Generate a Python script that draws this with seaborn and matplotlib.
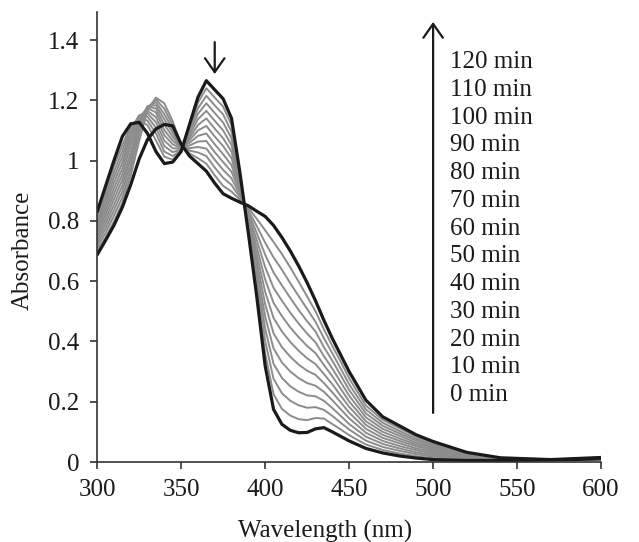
#!/usr/bin/env python3
""" UV-vis spectra recorded every 10 min (0-120 min) """

import pandas as pd
import matplotlib
matplotlib.use('Agg')
import matplotlib.pyplot as plt
from matplotlib.ticker import FuncFormatter
import seaborn as sns

wavelength = [300, 305, 310, 315, 320, 325, 330, 335, 340, 345,
              350, 355, 360, 365, 370, 375, 380, 385, 390, 395,
              400, 405, 410, 415, 420, 425, 430, 435, 440, 445,
              450, 460, 470, 480, 490, 500, 520, 540, 570, 600]

abs_0 = [0.830, 0.915, 1.000, 1.080, 1.122, 1.127, 1.090, 1.030, 0.990, 0.995,
         1.030, 1.120, 1.210, 1.265, 1.235, 1.205, 1.140, 0.960, 0.760, 0.550,
         0.320, 0.175, 0.125, 0.105, 0.097, 0.098, 0.110, 0.114, 0.100, 0.085,
         0.070, 0.045, 0.030, 0.020, 0.013, 0.008, 0.005, 0.005, 0.007, 0.010]
abs_10 = [0.809, 0.895, 0.982, 1.051, 1.116, 1.137, 1.117, 1.067, 1.013, 1.003,
          1.032, 1.111, 1.192, 1.240, 1.209, 1.179, 1.118, 0.952, 0.768, 0.573,
          0.361, 0.225, 0.176, 0.154, 0.142, 0.139, 0.146, 0.144, 0.126, 0.108,
          0.089, 0.058, 0.040, 0.028, 0.019, 0.013, 0.007, 0.006, 0.007, 0.010]
abs_20 = [0.798, 0.880, 0.963, 1.032, 1.110, 1.145, 1.132, 1.090, 1.030, 1.015,
          1.034, 1.103, 1.173, 1.215, 1.183, 1.153, 1.096, 0.944, 0.775, 0.597,
          0.402, 0.276, 0.228, 0.203, 0.188, 0.180, 0.182, 0.173, 0.153, 0.130,
          0.108, 0.071, 0.050, 0.037, 0.026, 0.018, 0.010, 0.007, 0.007, 0.011]
abs_30 = [0.788, 0.865, 0.945, 1.013, 1.101, 1.149, 1.145, 1.109, 1.048, 1.028,
          1.036, 1.094, 1.155, 1.190, 1.158, 1.126, 1.074, 0.936, 0.783, 0.620,
          0.443, 0.326, 0.279, 0.251, 0.233, 0.221, 0.218, 0.203, 0.179, 0.153,
          0.126, 0.084, 0.060, 0.045, 0.032, 0.023, 0.012, 0.007, 0.007, 0.011]
abs_40 = [0.777, 0.850, 0.927, 0.993, 1.088, 1.150, 1.156, 1.127, 1.066, 1.041,
          1.038, 1.085, 1.137, 1.165, 1.132, 1.100, 1.052, 0.927, 0.790, 0.643,
          0.483, 0.377, 0.330, 0.300, 0.278, 0.262, 0.253, 0.233, 0.205, 0.175,
          0.145, 0.097, 0.070, 0.053, 0.039, 0.028, 0.014, 0.008, 0.007, 0.012]
abs_50 = [0.766, 0.835, 0.908, 0.974, 1.071, 1.148, 1.165, 1.144, 1.084, 1.054,
          1.040, 1.076, 1.118, 1.140, 1.106, 1.074, 1.030, 0.919, 0.798, 0.667,
          0.524, 0.427, 0.381, 0.349, 0.323, 0.303, 0.289, 0.262, 0.231, 0.198,
          0.164, 0.110, 0.080, 0.062, 0.045, 0.033, 0.016, 0.009, 0.007, 0.012]
abs_60 = [0.755, 0.820, 0.890, 0.955, 1.052, 1.143, 1.174, 1.160, 1.101, 1.066,
          1.043, 1.068, 1.100, 1.115, 1.080, 1.048, 1.008, 0.911, 0.805, 0.690,
          0.565, 0.478, 0.433, 0.398, 0.369, 0.344, 0.325, 0.292, 0.258, 0.220,
          0.183, 0.123, 0.090, 0.070, 0.052, 0.038, 0.019, 0.010, 0.007, 0.013]
abs_70 = [0.744, 0.805, 0.872, 0.936, 1.028, 1.133, 1.179, 1.173, 1.119, 1.079,
          1.045, 1.059, 1.082, 1.090, 1.054, 1.021, 0.985, 0.903, 0.813, 0.713,
          0.606, 0.528, 0.484, 0.446, 0.414, 0.385, 0.361, 0.322, 0.284, 0.243,
          0.201, 0.135, 0.100, 0.078, 0.058, 0.043, 0.021, 0.010, 0.007, 0.013]
abs_80 = [0.733, 0.790, 0.853, 0.917, 1.010, 1.120, 1.180, 1.184, 1.137, 1.092,
          1.047, 1.050, 1.063, 1.065, 1.028, 0.995, 0.963, 0.895, 0.820, 0.737,
          0.647, 0.578, 0.535, 0.495, 0.459, 0.426, 0.397, 0.351, 0.310, 0.265,
          0.220, 0.148, 0.110, 0.087, 0.064, 0.048, 0.023, 0.011, 0.007, 0.013]
abs_90 = [0.723, 0.775, 0.835, 0.898, 0.990, 1.106, 1.179, 1.194, 1.154, 1.104,
          1.049, 1.041, 1.045, 1.040, 1.003, 0.969, 0.941, 0.887, 0.828, 0.760,
          0.688, 0.629, 0.586, 0.544, 0.504, 0.467, 0.433, 0.381, 0.336, 0.288,
          0.239, 0.161, 0.120, 0.095, 0.071, 0.053, 0.025, 0.012, 0.007, 0.014]
abs_100 = [0.712, 0.760, 0.817, 0.878, 0.970, 1.088, 1.175, 1.203, 1.172, 1.117,
           1.051, 1.033, 1.027, 1.015, 0.977, 0.943, 0.919, 0.878, 0.835, 0.783,
           0.728, 0.679, 0.638, 0.593, 0.550, 0.508, 0.465, 0.411, 0.361, 0.310,
           0.258, 0.174, 0.130, 0.103, 0.077, 0.058, 0.028, 0.013, 0.007, 0.014]
abs_110 = [0.701, 0.745, 0.798, 0.859, 0.950, 1.065, 1.167, 1.209, 1.190, 1.130,
           1.053, 1.024, 1.008, 0.990, 0.951, 0.916, 0.897, 0.870, 0.843, 0.807,
           0.769, 0.730, 0.690, 0.645, 0.598, 0.549, 0.500, 0.440, 0.385, 0.333,
           0.278, 0.187, 0.140, 0.112, 0.084, 0.063, 0.030, 0.013, 0.007, 0.015]
abs_120 = [0.687, 0.735, 0.785, 0.845, 0.920, 1.005, 1.070, 1.105, 1.120, 1.115,
           1.055, 1.015, 0.990, 0.965, 0.925, 0.890, 0.875, 0.862, 0.850, 0.832,
           0.815, 0.785, 0.745, 0.700, 0.650, 0.595, 0.535, 0.470, 0.410, 0.355,
           0.300, 0.205, 0.150, 0.120, 0.090, 0.068, 0.032, 0.014, 0.008, 0.015]

times = [0, 10, 20, 30, 40, 50, 60, 70, 80, 90, 100, 110, 120]
spectra = [abs_0, abs_10, abs_20, abs_30, abs_40, abs_50, abs_60,
           abs_70, abs_80, abs_90, abs_100, abs_110, abs_120]
time_labels = [f'{t} min' for t in times]


def main():
  sns.set_theme(style='ticks')
  plt.rcParams['font.family'] = ['Liberation Serif', 'DejaVu Serif']

  # Long table: one row per (time, wavelength)
  rows = []
  for t, spec in zip(times, spectra):
    for wl, a in zip(wavelength, spec):
      rows.append({'Time': t, 'Wavelength': wl, 'Absorbance': a})
  df = pd.DataFrame(rows)
  ends = df['Time'].isin([times[0], times[-1]])

  fig = plt.figure(figsize=(6.39, 5.42), dpi=100)
  ax = fig.add_axes([0.152, 0.1476, 0.7887, 0.8303])

  # Intermediate spectra in grey, first and last in thick black
  sns.lineplot(data=df[~ends], x='Wavelength', y='Absorbance', units='Time',
               estimator=None, color='#8c8c8c', lw=1.4, ax=ax)
  sns.lineplot(data=df[ends], x='Wavelength', y='Absorbance', units='Time',
               estimator=None, color='#1a1a1a', lw=2.3, ax=ax)

  ax.set_xlim(300, 600)
  ax.set_ylim(0, 1.493)
  ax.set_xticks(range(300, 601, 50))
  ax.set_yticks([0, 0.2, 0.4, 0.6, 0.8, 1.0, 1.2, 1.4])
  ax.yaxis.set_major_formatter(FuncFormatter(lambda v, p: f'{v:g}'))
  for s in ['top', 'right']:
    ax.spines[s].set_visible(False)
  for s in ['left', 'bottom']:
    ax.spines[s].set_color('#333333')
    ax.spines[s].set_linewidth(1.2)
  ax.tick_params(direction='out', length=5, width=1.2, color='#333333',
                 labelsize=18, labelcolor='#1a1a1a')
  ax.tick_params(axis='x', pad=7)
  ax.tick_params(axis='y', pad=8)

  ax.set_xlabel('Wavelength (nm)', fontsize=18, color='#1a1a1a')
  ax.set_ylabel('Absorbance', fontsize=18, color='#1a1a1a')
  ax.xaxis.set_label_coords(0.452, -0.128)
  ax.yaxis.set_label_coords(-0.125, 0.471)

  # Arrow showing the decreasing band
  ax.annotate('', xy=(370, 1.287), xytext=(370, 1.393),
              arrowprops=dict(arrowstyle='->,head_length=0.5,head_width=0.35',
                              lw=1.6, color='#1a1a1a', mutation_scale=20,
                              shrinkA=0, shrinkB=0))
  # Time arrow with labels
  ax.annotate('', xy=(500, 1.46), xytext=(500, 0.163),
              arrowprops=dict(arrowstyle='->,head_length=0.5,head_width=0.35',
                              lw=1.6, color='#1a1a1a', mutation_scale=20,
                              shrinkA=0, shrinkB=0))
  for k, label in enumerate(reversed(time_labels)):
    ax.text(510, 1.327 - k * 0.0921, label, fontsize=18, color='#1a1a1a',
            ha='left', va='center')

  fig.savefig('out.png', dpi=100)


if __name__ == '__main__':
  main()
